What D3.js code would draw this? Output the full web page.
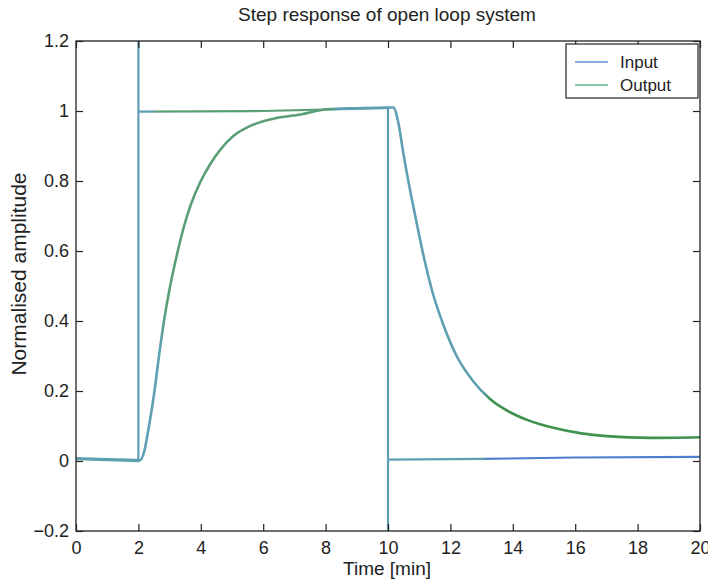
<!DOCTYPE html>
<html>
<head>
<meta charset="utf-8">
<script src="https://cdn.jsdelivr.net/npm/d3@7"></script>
<style>
  body { margin: 0; background: #fff; }
  svg { font-family: "Liberation Sans", Arial, sans-serif; }
</style>
</head>
<body>
<svg width="708" height="581"></svg>
<script>
// values
var outTime = [0, 1, 1.9, 2.05, 2.18, 2.34, 2.5, 2.66, 2.82, 3.03, 3.25, 3.46, 3.67, 4.0, 4.3, 4.63, 5.06, 5.55, 6.33, 7.2, 8.05, 9.0, 9.96, 10.17, 10.33, 10.49, 10.7, 10.92, 11.13, 11.45, 11.77, 12.2, 12.73, 13.26, 13.9, 14.5, 15.2, 16.2, 17, 18.4, 20];
var outValue = [0.008, 0.005, 0.003, 0.002, 0.025, 0.1, 0.19, 0.3, 0.4, 0.505, 0.595, 0.67, 0.73, 0.8, 0.848, 0.89, 0.93, 0.956, 0.978, 0.99, 1.005, 1.008, 1.01, 1.01, 0.967, 0.88, 0.777, 0.68, 0.59, 0.475, 0.39, 0.3, 0.228, 0.178, 0.14, 0.116, 0.097, 0.079, 0.071, 0.066, 0.068];

var inTime = [0, 2, 2, 2, 6, 9.9, 10, 10, 10, 13, 16, 20];
var inValue = [0.005, 0, 1.4, 0.998, 1.0, 1.008, 1.008, -0.4, 0.004, 0.006, 0.01, 0.012];

var xTicks = [0, 2, 4, 6, 8, 10, 12, 14, 16, 18, 20];
var yTicks = [-0.2, 0, 0.2, 0.4, 0.6, 0.8, 1, 1.2];
var seriesNames = ["Input", "Output"];

var svg = d3.select("svg"),
    pL = 76, pR = 700, pT = 41, pB = 531;

var x = d3.scaleLinear().domain([0, 20]).range([pL, pR]);
var y = d3.scaleLinear().domain([-0.2, 1.2]).range([pB, pT]);

var defs = svg.append("defs");
defs.append("clipPath").attr("id", "plot")
  .append("rect").attr("x", pL).attr("y", pT)
  .attr("width", pR - pL).attr("height", pB - pT);

// colour shifts along time, as in the scanned figure
function gradient(id, stops) {
  var g = defs.append("linearGradient").attr("id", id)
    .attr("gradientUnits", "userSpaceOnUse")
    .attr("x1", x(0)).attr("x2", x(20)).attr("y1", 0).attr("y2", 0);
  stops.forEach(function(s) {
    g.append("stop").attr("offset", s[0] / 20).attr("stop-color", s[1]);
  });
}
var teal = "#5e9fb2", green = "#5a9e76", blue = "#4e7fcc", dgreen = "#3f9250";
gradient("gIn", [[0, teal], [2.4, teal], [2.6, green], [8.2, green], [8.4, teal], [13, teal], [13.2, blue], [20, blue]]);
gradient("gOut", [[0, teal], [2.7, teal], [2.9, green], [8.2, green], [8.4, teal], [13, teal], [13.3, dgreen], [20, dgreen]]);

var line = d3.line()
  .x(function(d) { return x(d[0]); })
  .y(function(d) { return y(d[1]); });

var outData = outTime.map(function(t, i) { return [t, outValue[i]]; });
var inData = inTime.map(function(t, i) { return [t, inValue[i]]; });

var plot = svg.append("g").attr("clip-path", "url(#plot)");

plot.append("path")
  .datum(outData)
  .attr("fill", "none")
  .attr("stroke", "url(#gOut)")
  .attr("stroke-width", 2.6)
  .attr("stroke-linejoin", "round")
  .attr("d", line.curve(d3.curveMonotoneX));

plot.append("path")
  .datum(inData)
  .attr("fill", "none")
  .attr("stroke", "url(#gIn)")
  .attr("stroke-width", 2.2)
  .attr("d", line.curve(d3.curveLinear));

// axes box with inward ticks on all four sides
var tickLen = 7;
svg.append("g").attr("transform", "translate(0," + pB + ")")
  .call(d3.axisBottom(x).tickValues(xTicks).tickSize(-tickLen).tickPadding(10).tickFormat(d3.format("d")))
  .call(function(g) { g.select(".domain").remove(); });
svg.append("g").attr("transform", "translate(0," + pT + ")")
  .call(d3.axisTop(x).tickValues(xTicks).tickSize(-tickLen).tickFormat(""))
  .call(function(g) { g.select(".domain").remove(); });
svg.append("g").attr("transform", "translate(" + pL + ",0)")
  .call(d3.axisLeft(y).tickValues(yTicks).tickSize(-tickLen).tickPadding(7).tickFormat(function(d) { return d3.format("")(+d.toFixed(1)); }))
  .call(function(g) { g.select(".domain").remove(); });
svg.append("g").attr("transform", "translate(" + pR + ",0)")
  .call(d3.axisRight(y).tickValues(yTicks).tickSize(-tickLen).tickFormat(""))
  .call(function(g) { g.select(".domain").remove(); });

svg.selectAll(".tick line").attr("stroke", "#222").attr("stroke-width", 1.2);
svg.selectAll(".tick text").attr("font-size", 18).attr("fill", "#222")
  .attr("font-family", "Liberation Sans, Arial, sans-serif");

svg.append("rect")
  .attr("x", pL).attr("y", pT)
  .attr("width", pR - pL).attr("height", pB - pT)
  .attr("fill", "none").attr("stroke", "#222").attr("stroke-width", 1.3);

// titles
svg.append("text").attr("x", 387).attr("y", 21).attr("text-anchor", "middle")
  .attr("font-size", 19).attr("fill", "#222").text("Step response of open loop system");
svg.append("text").attr("x", 387).attr("y", 575).attr("text-anchor", "middle")
  .attr("font-size", 19).attr("fill", "#222").text("Time [min]");
svg.append("text").attr("transform", "translate(26,274) rotate(-90)").attr("text-anchor", "middle")
  .attr("font-size", 21).attr("fill", "#222").text("Normalised amplitude");

// legend
var lg = svg.append("g").attr("transform", "translate(566,44)");
lg.append("rect").attr("width", 132).attr("height", 54)
  .attr("fill", "#fff").attr("stroke", "#222").attr("stroke-width", 1.2);
var legendColors = ["#6a8ed2", "#5cb98a"];
seriesNames.forEach(function(name, i) {
  var yy = 18 + i * 23;
  lg.append("line").attr("x1", 9).attr("x2", 42).attr("y1", yy).attr("y2", yy)
    .attr("stroke", legendColors[i]).attr("stroke-width", 1.6);
  lg.append("text").attr("x", 54).attr("y", yy + 6).attr("font-size", 17)
    .attr("fill", "#222").text(name);
});
</script>
</body>
</html>
